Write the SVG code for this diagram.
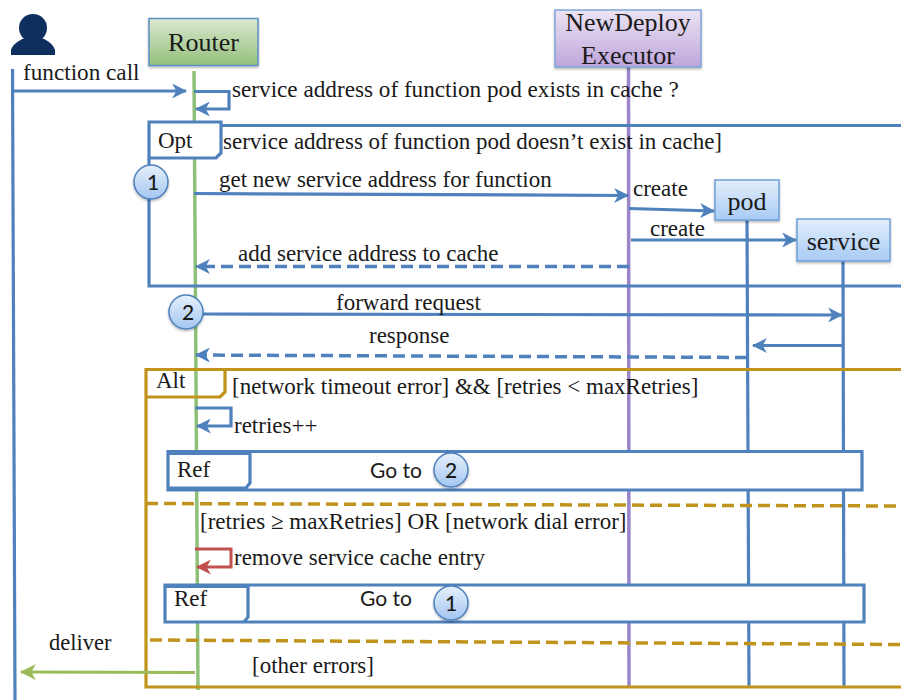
<svg xmlns="http://www.w3.org/2000/svg" width="901" height="700" viewBox="0 0 901 700">
<style>
text{font-family:"Liberation Serif","Times New Roman",serif;fill:#1a1a1a;font-size:23px}
.w{font-size:23.200px}
.d{font-size:22.500px}
.n{font-size:26px;text-anchor:middle}
.g{font-family:Lato,"Liberation Sans",sans-serif;font-size:21px}
.c{font-family:Lato,"Liberation Sans",sans-serif;font-size:21px;text-anchor:middle;font-weight:500}
.b{fill:none;stroke:#4f81bd;stroke-width:3.200}
.t{fill:#fff;stroke:#4f81bd;stroke-width:3.200}
.o{fill:none;stroke:#c0941c;stroke-width:3.200}
.od{fill:none;stroke:#c0941c;stroke-width:3.500;stroke-dasharray:12 6}
.bd{fill:none;stroke:#4f81bd;stroke-width:3.500;stroke-dasharray:12 6}
.circ{fill:url(#gc);stroke:#4f81bd;stroke-width:1.500;filter:url(#sh)}
.box{stroke-width:1.500;filter:url(#sh)}
</style>
<defs>
<filter id="sh" x="-20%" y="-20%" width="140%" height="140%"><feDropShadow dx="0" dy="1.500" stdDeviation="1.200" flood-color="#000" flood-opacity="0.300"/></filter>
<linearGradient id="gg" x1="0" y1="0" x2="0" y2="1"><stop offset="0" stop-color="#dbe8cf"/><stop offset="1" stop-color="#93c07c"/></linearGradient>
<linearGradient id="gp" x1="0" y1="0" x2="0" y2="1"><stop offset="0" stop-color="#ebe4f3"/><stop offset="1" stop-color="#bfa6dc"/></linearGradient>
<linearGradient id="gb" x1="0" y1="0" x2="0" y2="1"><stop offset="0" stop-color="#e3eefb"/><stop offset="1" stop-color="#a8cbf5"/></linearGradient>
<linearGradient id="gc" x1="0" y1="0" x2="0" y2="1"><stop offset="0" stop-color="#e6f0fb"/><stop offset="1" stop-color="#a3c6f1"/></linearGradient>
<marker id="a" viewBox="0 0 14 14" refX="13" refY="7" markerWidth="15" markerHeight="15" markerUnits="userSpaceOnUse" orient="auto"><path d="M0 0L14 7L0 14L4 7Z" fill="#4f81bd"/></marker>
<marker id="ag" viewBox="0 0 14 14" refX="13" refY="7" markerWidth="16" markerHeight="16" markerUnits="userSpaceOnUse" orient="auto"><path d="M0 0L14 7L0 14L4 7Z" fill="#9bbb59"/></marker>
<marker id="ar" viewBox="0 0 14 14" refX="13" refY="7" markerWidth="15" markerHeight="15" markerUnits="userSpaceOnUse" orient="auto"><path d="M0 0L14 7L0 14L4 7Z" fill="#c0504d"/></marker>
</defs>

<g id="lifelines">
<path class="b" d="M12.500 69L15 700"/>
<path d="M194 71L198 690" fill="none" stroke="#8fc078" stroke-width="3.500"/>
<path d="M628.500 67L629 688" fill="none" stroke="#9b85c9" stroke-width="3.500"/>
<path class="b" d="M747 220L749 687"/>
<path class="b" d="M843 261L844 687"/>
</g>

<g id="frame-opt">
<path class="b" d="M901 125.500H221M149 158V286H901"/>
<path class="t" d="M149 122H221V153L216 158H149Z"/>
<text x="158" y="148">Opt</text>
<text x="223" y="149">service address of function pod doesn’t exist in cache]</text>
</g>

<g id="frame-alt">
<path class="o" d="M901 369.500H146V687H901"/>
<path class="o" d="M146 397H220L225 392V369.500"/>
<text x="156" y="388">Alt</text>
<text x="232" y="394">[network timeout error] &amp;&amp; [retries &lt; maxRetries]</text>
<path class="od" d="M146 503.500L901 506"/>
<path class="od" d="M150 640L901 644.500"/>
<text x="200" y="529">[retries ≥ maxRetries] OR [network dial error]</text>
<text x="252" y="673">[other errors]</text>
</g>

<g id="connectors">
<path class="b" d="M13 91H186" marker-end="url(#a)"/>
<path class="b" d="M194 91.500H229V109H196" marker-end="url(#a)"/>
<path class="b" d="M194 193.500L628 195.500" marker-end="url(#a)"/>
<path class="b" d="M629 208.500L714 211" marker-end="url(#a)"/>
<path class="b" d="M631 240H796" marker-end="url(#a)"/>
<path class="bd" d="M629 266.500H196" marker-end="url(#a)"/>
<path class="b" d="M203 314L842 315" marker-end="url(#a)"/>
<path class="b" d="M843 345.500H753" marker-end="url(#a)"/>
<path class="bd" d="M747 357.500L196 355" marker-end="url(#a)"/>
<path class="b" d="M195 408H231V426H197" marker-end="url(#a)"/>
<path d="M195 549H231V567H197" fill="none" stroke="#c0504d" stroke-width="3" marker-end="url(#ar)"/>
<path d="M195 672.500L21 672" fill="none" stroke="#9bbb59" stroke-width="3" marker-end="url(#ag)"/>
</g>

<g id="labels">
<text x="23" y="80" class="w">function call</text>
<text x="232" y="97" class="w">service address of function pod exists in cache ?</text>
<text x="219" y="187">get new service address for function</text>
<text x="633" y="196">create</text>
<text x="650" y="236">create</text>
<text x="238" y="261">add service address to cache</text>
<text x="336" y="310">forward request</text>
<text x="369" y="343">response</text>
<text x="234" y="433">retries++</text>
<text x="234" y="565">remove service cache entry</text>
<text x="49" y="650" class="d">deliver</text>
</g>

<g id="actor-user">
<circle cx="33" cy="28" r="14" fill="#0f2f5f"/>
<path d="M11 55V50C13 43 22 39 25 38C30 42 37 42 41 38C45 39 53 43 55 50V55Z" fill="#0f2f5f"/>
</g>
<g id="node-router">
<rect class="box" x="149" y="18.500" width="109" height="47" fill="url(#gg)" stroke="#5b8fc4"/>
<text x="203.500" y="51" class="n">Router</text>
</g>
<g id="node-executor">
<rect class="box" x="555" y="10" width="146" height="57" fill="url(#gp)" stroke="#7ea6d6"/>
<text x="628" y="31" class="n">NewDeploy</text>
<text x="628" y="64" class="n">Executor</text>
</g>
<g id="node-pod">
<rect class="box" x="715" y="180" width="64" height="40" fill="url(#gb)" stroke="#6f9fd8"/>
<text x="747" y="210" class="n">pod</text>
</g>
<g id="node-service">
<rect class="box" x="797" y="219" width="93" height="42" fill="url(#gb)" stroke="#6f9fd8"/>
<text x="843.500" y="250" class="n">service</text>
</g>

<g id="ref-2">
<path class="t" d="M168 451.500H862V490H168Z"/>
<path class="b" d="M168 453.500H250V483L246 488H168"/>
<text x="177" y="477">Ref</text>
<text x="370" y="478" class="g">Go to</text>
</g>
<g id="ref-1">
<path class="t" d="M165 585H864V622H165Z"/>
<path class="b" d="M165 586.500H248V617L244 622"/>
<text x="174" y="606">Ref</text>
<text x="360" y="606" class="g">Go to</text>
</g>

<g id="badge-1"><circle class="circ" cx="151" cy="182" r="17"/><text x="153" y="190" class="c">1</text></g>
<g id="badge-2"><circle class="circ" cx="186" cy="312" r="17"/><text x="188" y="320" class="c">2</text></g>
<g id="badge-goto-2"><circle class="circ" cx="451" cy="470" r="17"/><text x="451" y="478" class="c">2</text></g>
<g id="badge-goto-1"><circle class="circ" cx="451" cy="603" r="17"/><text x="451" y="611" class="c">1</text></g>
</svg>
